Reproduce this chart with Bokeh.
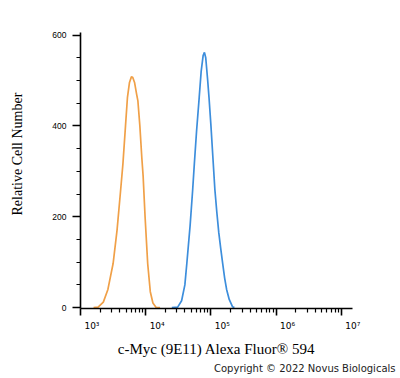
from bokeh.plotting import figure
from bokeh.models import Range1d, FixedTicker, Title, LinearAxis
from bokeh.embed import file_html
from bokeh.resources import INLINE

# Orange histogram (log10 of intensity, relative cell count)
orange_log = [3.20, 3.27, 3.35, 3.42, 3.50, 3.56, 3.61, 3.65, 3.69, 3.72, 3.75, 3.78, 3.80,
              3.83, 3.86, 3.88, 3.91, 3.94, 3.96, 3.99, 4.03, 4.07, 4.11, 4.16, 4.22]
orange_cnt = [0, 1, 12, 40, 97, 170, 250, 316, 400, 463, 495, 508, 507,
              495, 470, 455, 400, 330, 290, 200, 97, 35, 10, 0, 0]

# Blue histogram
blue_log = [4.40, 4.49, 4.55, 4.60, 4.63, 4.68, 4.72, 4.745, 4.78, 4.82, 4.85, 4.88, 4.90,
            4.92, 4.95, 4.97, 5.00, 5.03, 5.06, 5.09, 5.12, 5.15, 5.18, 5.21, 5.24, 5.28, 5.33, 5.36]
blue_cnt = [0, 1, 15, 50, 97, 180, 260, 316, 390, 463, 520, 555, 562,
            550, 500, 463, 400, 330, 260, 210, 165, 130, 97, 65, 40, 18, 2, 0]

x_major = [1e3, 1e4, 1e5, 1e6, 1e7]
x_labels = ["10\u00b3", "10\u2074", "10\u2075", "10\u2076", "10\u2077"]
y_major = [0, 200, 400, 600]

orange_x = [10 ** v for v in orange_log]
blue_x = [10 ** v for v in blue_log]

p = figure(width=400, height=378, x_axis_type="log", output_backend="svg",
           toolbar_location=None, min_border_left=79, min_border_right=48,
           min_border_top=32, min_border_bottom=70)
p.x_range = Range1d(1e3, 10 ** 7.17)
p.y_range = Range1d(-2, 605.7)
p.xgrid.visible = False
p.ygrid.visible = False
p.outline_line_color = None
p.background_fill_color = "white"
p.border_fill_color = "white"

p.line(orange_x, orange_cnt, line_color="#F0A048", line_width=1.7)
p.line(blue_x, blue_cnt, line_color="#3D8EDC", line_width=1.7)

minor = []
for d in range(2, 8):
    for m in range(2, 10):
        minor.append(m * 10 ** d)
xa = p.xaxis[0]
xa.ticker = FixedTicker(ticks=x_major, minor_ticks=minor)
xa.major_label_overrides = {t: "\u00a0" * 8 + lab for t, lab in zip(x_major, x_labels)}
ya = p.yaxis[0]
ya.ticker = FixedTicker(ticks=y_major, minor_ticks=list(range(0, 601, 50)))

for ax in (xa, ya):
    ax.axis_line_width = 1.6
    ax.axis_line_color = "black"
    ax.major_tick_line_width = 1.6
    ax.minor_tick_line_width = 1.2
    ax.major_tick_in = 0
    ax.minor_tick_in = 0
    ax.major_label_text_color = "black"
ya.major_label_text_font = "Liberation Sans"
ya.major_label_text_font_size = "8.5px"
xa.major_label_text_font = "DejaVu Sans"
xa.major_label_text_font_size = "9px"
xa.major_tick_out = 7
xa.minor_tick_out = 4
ya.major_tick_out = 8
ya.minor_tick_out = 4
xa.major_label_standoff = 5
ya.major_label_standoff = 6

xa.axis_label = "c-Myc (9E11) Alexa Fluor\u00ae 594"
xa.axis_label_text_font = "Liberation Serif"
xa.axis_label_text_font_style = "normal"
xa.axis_label_text_font_size = "15px"
xa.axis_label_standoff = 7
xa.axis_label_text_color = "black"

# blank spacer axis to push the y title outward
spacer = LinearAxis(ticker=FixedTicker(ticks=[]), axis_line_color=None,
                    major_tick_line_color=None, minor_tick_line_color=None,
                    major_tick_out=0, minor_tick_out=0, major_label_text_font_size="0px",
                    axis_label="\u00a0", axis_label_standoff=0,
                    axis_label_text_font_size="10px")
p.add_layout(spacer, "left")

ylab = Title(text="Relative Cell Number", align="left", offset=93, standoff=18,
             vertical_align="top",
             text_font="Liberation Serif", text_font_size="14px",
             text_font_style="normal", text_color="black")
p.add_layout(ylab, "left")

copy = Title(text="Copyright \u00a9 2022 Novus Biologicals", align="right", offset=-43,
             standoff=2, text_font="DejaVu Sans", text_font_size="10px",
             text_font_style="normal", text_color="#222222")
p.add_layout(copy, "below")

open("out.html", "w").write(file_html(p, INLINE))
